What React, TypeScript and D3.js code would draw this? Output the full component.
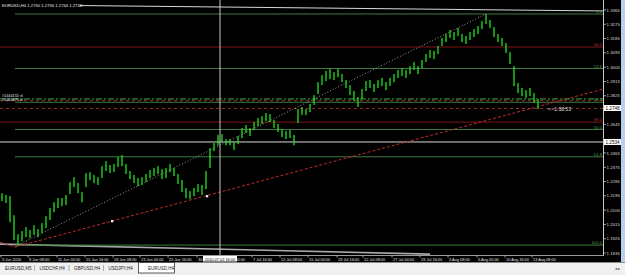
import React from "react";
import * as d3 from "d3";

// ---- data ----
const highs = [
  1.2212, 1.22, 1.2193, 1.2073, 1.1954, 1.1973, 1.1998, 1.1979, 1.201, 1.1985,
  1.2023, 1.2067, 1.2118, 1.2155, 1.2181, 1.2181, 1.22, 1.2281, 1.2313, 1.2275,
  1.2218, 1.2338, 1.2344, 1.2326, 1.2313, 1.2382, 1.2414, 1.2389, 1.2395, 1.2439,
  1.2452, 1.2395, 1.2351, 1.2326, 1.2307, 1.2313, 1.2332, 1.2357, 1.237, 1.2382,
  1.2363, 1.237, 1.2395, 1.237, 1.2332, 1.2294, 1.2244, 1.2225, 1.2244, 1.2269,
  1.2263, 1.2351, 1.2496, 1.2527, 1.2578, 1.2584, 1.2552, 1.2552, 1.2533, 1.2571,
  1.2622, 1.2641, 1.2622, 1.2659, 1.2685, 1.2697, 1.2716, 1.271, 1.2672, 1.2647,
  1.2615, 1.2603, 1.2609, 1.2578, 1.2741, 1.2754, 1.2741, 1.2773, 1.2829, 1.2911,
  1.2955, 1.2981, 1.2993, 1.2974, 1.2993, 1.2962, 1.2924, 1.2892, 1.2855, 1.2817,
  1.2867, 1.2918, 1.2924, 1.2899, 1.2924, 1.2937, 1.2911, 1.2937, 1.2962, 1.2987,
  1.3, 1.2987, 1.3012, 1.3037, 1.3012, 1.305, 1.3088, 1.3113, 1.3107, 1.3138,
  1.3189, 1.3214, 1.3239, 1.3226, 1.3252, 1.3214, 1.3201, 1.3226, 1.3245, 1.3264,
  1.3296, 1.334, 1.3302, 1.3258, 1.3214, 1.3189, 1.3157, 1.31, 1.3012, 1.2905,
  1.2874, 1.2861, 1.2874, 1.2842, 1.2804,
];
const lows = [
  1.2162, 1.2149, 1.2029, 1.1916, 1.1885, 1.191, 1.1935, 1.1929, 1.1948, 1.1935,
  1.196, 1.1992, 1.2042, 1.2092, 1.2118, 1.213, 1.2137, 1.2206, 1.225, 1.2212,
  1.2155, 1.225, 1.2294, 1.2275, 1.2263, 1.2307, 1.2351, 1.2338, 1.2344, 1.2376,
  1.2382, 1.2332, 1.23, 1.2275, 1.2256, 1.2263, 1.2281, 1.2307, 1.2319, 1.2332,
  1.23, 1.2307, 1.2344, 1.2319, 1.2269, 1.2218, 1.2181, 1.2174, 1.2193, 1.2218,
  1.22, 1.2237, 1.237, 1.2477, 1.2513, 1.2533, 1.2513, 1.2513, 1.2483, 1.2521,
  1.2559, 1.259, 1.2571, 1.2609, 1.2634, 1.2647, 1.2666, 1.2659, 1.2622, 1.2596,
  1.2565, 1.2552, 1.2559, 1.2513, 1.2653, 1.2704, 1.2704, 1.2722, 1.2767, 1.2836,
  1.2892, 1.2918, 1.293, 1.2924, 1.2943, 1.2911, 1.2874, 1.2829, 1.2792, 1.2754,
  1.2804, 1.2855, 1.2874, 1.2848, 1.2874, 1.2886, 1.2861, 1.2886, 1.2911, 1.2937,
  1.2949, 1.2937, 1.2962, 1.2987, 1.2962, 1.3, 1.3037, 1.3063, 1.3056, 1.3088,
  1.3138, 1.3163, 1.3189, 1.3176, 1.3201, 1.3163, 1.3151, 1.3176, 1.3195, 1.3214,
  1.3245, 1.3277, 1.3252, 1.3195, 1.3163, 1.3138, 1.3094, 1.3025, 1.2886, 1.2842,
  1.2823, 1.2811, 1.2823, 1.2779, 1.2741,
];

const priceLabels = [
  "1.3365", "1.3275", "1.3185", "1.3095", "1.3005", "1.2915", "1.2825", "1.2735", "1.2645",
  "1.2555", "1.2465", "1.2375", "1.2285", "1.2195", "1.2105", "1.2015", "1.1925", "1.1835",
];

const timeLabels = [
  "3 Jun 2010", "8 Jun 08:00", "11 Jun 00:00", "15 Jun 16:00", "18 Jun 08:00", "23 Jun 00:00",
  "25 Jun 16:00", "30 Jun 08:00", "5 Jul 00:00", "7 Jul 16:00", "12 Jul 08:00", "15 Jul 00:00",
  "19 Jul 16:00", "22 Jul 08:00", "27 Jul 00:00", "29 Jul 16:00", "3 Aug 08:00", "6 Aug 00:00",
  "10 Aug 16:00", "13 Aug 08:00",
];
const timeLabelBars = [
  -0.25, 6.5, 13.75, 20.75, 27.75, 34.5, 41.5, 48.75, 55.75, 62.5, 69.5, 76.5, 83.75, 90.25,
  97.5, 104.5, 111.5, 118.75, 125.75, 132.5,
];

const fibLevels = [0, 23.6, 38.2, 50.0, 61.8, 100.0];
const fibHigh = 1.334;
const fibLow = 1.1885;
const fibLowBar = 4;
const fibHighBar = 121;
const fibStartBar = 3.25;

const redLevels = [1.3132, 1.2659];
const redLevelLabels = ["50.0", "38.2"];
const whiteLevel = 1.2534;
const orderLevel = 1.2805;
const stopLevels = [1.2794, 1.2745];
const orderLabels = ["#1444155 sl", "#1444679 sl"];
const priceBoxes = ["1.2748", "1.2534"];

const redTrendA = [[-0.5, 1.1903], [3.25, 1.1872]];
const redTrendB = [[3.25, 1.1872], [150.25, 1.2867]];
const trendDots = [[27.5, 1.2036], [51.25, 1.2193]];
const topLine = [[19.5, 1.3393], [150.25, 1.3359]];
const bottomLine = [[-0.5, 1.1891], [107, 1.1828]];
const cursorBar = 54.5;
const cursorLabel = "2010.07.02 16:00";
const headerText = "EURUSD,H4  1.2750 1.2756 1.2744 1.2746";
const countdown = "<--1:38:53";
const tabs = ["EURUSD,M5", "USDCHF,H4", "GBPUSD,H4", "USDJPY,H4", "EURUSD,H4"];

const lastBar = 134;
const edgeBar = 150.25;

export default function App() {
  const W = 625, H = 275;
  const x = d3.scaleLinear().domain([0, lastBar]).range([2, 538]);
  const y = d3.scaleLinear().domain([1.1835, 1.3365]).range([253, 10]);
  const xL = x(-0.5);
  const xR = x(edgeBar);
  const axisX = xR + 0.5;
  const font = "'Liberation Sans', Arial, sans-serif";
  const line = d3.line<number[]>().x((d) => x(d[0])).y((d) => y(d[1]));
  const bidY = y(1.2748);

  const tabX = d3.scalePoint<string>().domain(tabs).range([5, 143]);
  const boxYs = priceBoxes.map((t) => y(+t));
  const visiblePriceLabels = priceLabels.filter((t) => boxYs.every((by) => Math.abs(y(+t) - by) > 4));

  return (
    <svg width={W} height={H} style={{ position: "absolute", left: 0, top: 0 }} fontFamily={font}>
      <rect x={0} y={0} width={W} height={262} fill="#000" />

      {/* top & bottom white channel lines */}
      <path d={line(topLine as any) || ""} stroke="#d8d8d8" strokeWidth={1} fill="none" />
      <path d={line(bottomLine as any) || ""} stroke="#a8a8a8" strokeWidth={1.6} fill="none" />

      {/* header */}
      <text x={2} y={7} fontSize={4.2} fill="#e8e8e8">{headerText}</text>

      {/* fib levels */}
      {fibLevels.map((lv) => {
        const p = fibHigh - (fibHigh - fibLow) * (lv / 100);
        return (
          <g key={"f" + lv}>
            <line x1={x(fibStartBar)} x2={xR} y1={y(p)} y2={y(p)} stroke="#3f7a3f" strokeWidth={1} />
            <text x={xR - 1} y={y(p) - 1} fontSize={4.2} fill="#4f9a4f" textAnchor="end">{lv.toFixed(1)}</text>
          </g>
        );
      })}

      {/* red levels */}
      {redLevels.map((p, i) => (
        <g key={"r" + i}>
          <line x1={xL} x2={xR} y1={y(p)} y2={y(p)} stroke="#7d1414" strokeWidth={1} />
          <text x={xR - 1} y={y(p) - 1} fontSize={4.2} fill="#b03030" textAnchor="end">{redLevelLabels[i]}</text>
        </g>
      ))}

      {/* white level */}
      <line x1={xL} x2={xR} y1={y(whiteLevel)} y2={y(whiteLevel)} stroke="#d8d8d8" strokeWidth={1} />

      {/* order & stop lines */}
      <line x1={xL} x2={xR} y1={y(orderLevel)} y2={y(orderLevel)} stroke="#3fae3f" strokeWidth={1} strokeDasharray="6 2 2 2" />
      {stopLevels.map((p, i) => (
        <line key={"s" + i} x1={xL} x2={xR} y1={y(p)} y2={y(p)} stroke="#a02828" strokeWidth={1} strokeDasharray="3 3" />
      ))}
      {orderLabels.map((t, i) => (
        <text key={"o" + i} x={2} y={y(orderLevel) - 1.5 + i * 4} fontSize={3.8} fill="#e0e0e0">{t}</text>
      ))}

      {/* fib trendline dotted */}
      <line x1={x(fibLowBar)} y1={y(fibLow)} x2={x(fibHighBar)} y2={y(fibHigh)} stroke="#bdbdbd" strokeWidth={0.8} strokeDasharray="1 2" />

      {/* red dashed trend */}
      <path d={line(redTrendA as any) || ""} stroke="#c02a2a" strokeWidth={1} strokeDasharray="3 2" fill="none" />
      <path d={line(redTrendB as any) || ""} stroke="#c02a2a" strokeWidth={1} strokeDasharray="3 2" fill="none" />

      {/* cursor vertical */}
      <line x1={x(cursorBar)} x2={x(cursorBar)} y1={0} y2={256} stroke="#c8c8c8" strokeWidth={1} />

      {/* bars */}
      {highs.map((h, i) => (
        <rect key={"b" + i} x={x(i) - 0.65} y={y(h)} width={1.3} height={Math.max(1, y(lows[i]) - y(h))} fill="#22e022" />
      ))}

      {trendDots.map((d, i) => (
        <rect key={"d" + i} x={x(d[0]) - 1} y={y(d[1]) - 1} width={2.2} height={2.2} fill="#fff" />
      ))}

      {/* countdown */}
      <text x={x(lastBar) + 10} y={bidY + 3} fontSize={5} fill="#e0e0e0">{countdown}</text>

      {/* right axis */}
      <line x1={axisX} x2={axisX} y1={0} y2={256} stroke="#c8c8c8" strokeWidth={1} />
      {visiblePriceLabels.map((t) => (
        <g key={t}>
          <line x1={axisX} x2={axisX + 2.5} y1={y(+t)} y2={y(+t)} stroke="#c8c8c8" strokeWidth={0.8} />
          <text x={axisX + 3} y={y(+t) + 1.6} fontSize={4.4} fill="#d8d8d8">{t}</text>
        </g>
      ))}
      {priceBoxes.map((t) => (
        <g key={"pb" + t}>
          <rect x={axisX + 0.5} y={y(+t) - 3} width={17} height={6} fill="#fff" />
          <text x={axisX + 2} y={y(+t) + 1.7} fontSize={4.6} fill="#000">{t}</text>
        </g>
      ))}

      {/* bottom axis */}
      <line x1={0} x2={axisX} y1={255.5} y2={255.5} stroke="#9a9a9a" strokeWidth={1} />
      {timeLabels.map((t, i) => (
        <g key={t}>
          <line x1={x(timeLabelBars[i])} x2={x(timeLabelBars[i])} y1={255.5} y2={257.5} stroke="#c8c8c8" strokeWidth={0.8} />
          <text x={x(timeLabelBars[i]) + 1} y={260.5} fontSize={3.9} fill="#e0e0e0">{t}</text>
        </g>
      ))}
      <rect x={x(cursorBar) - 17} y={256} width={34} height={5.5} fill="#fff" />
      <text x={x(cursorBar)} y={260.5} fontSize={3.9} fill="#000" textAnchor="middle">{cursorLabel}</text>

      {/* right window strip */}
      <rect x={621} y={0} width={4} height={262} fill="#b8d0ec" />

      {/* tabs */}
      <rect x={0} y={262} width={W} height={13} fill="#f0f0f0" />
      <line x1={0} x2={W} y1={262.5} y2={262.5} stroke="#8a8a8a" strokeWidth={1} />
      <rect x={138.5} y={262.5} width={36} height={10.5} fill="#fff" stroke="#333" strokeWidth={0.8} />
      {tabs.map((t, i) => (
        <g key={"t" + i}>
          <text x={(tabX(t) || 0) + (i === 4 ? 5 : 0)} y={269.5} fontSize={4.5} fill="#222">{t}</text>
          {i > 0 && i < 4 && (
            <line x1={(tabX(t) || 0) - 5} x2={(tabX(t) || 0) - 5} y1={265} y2={271} stroke="#888" strokeWidth={0.6} />
          )}
        </g>
      ))}
      <text x={615} y={270} fontSize={4} fill="#444">◂ ▸</text>
    </svg>
  );
}
